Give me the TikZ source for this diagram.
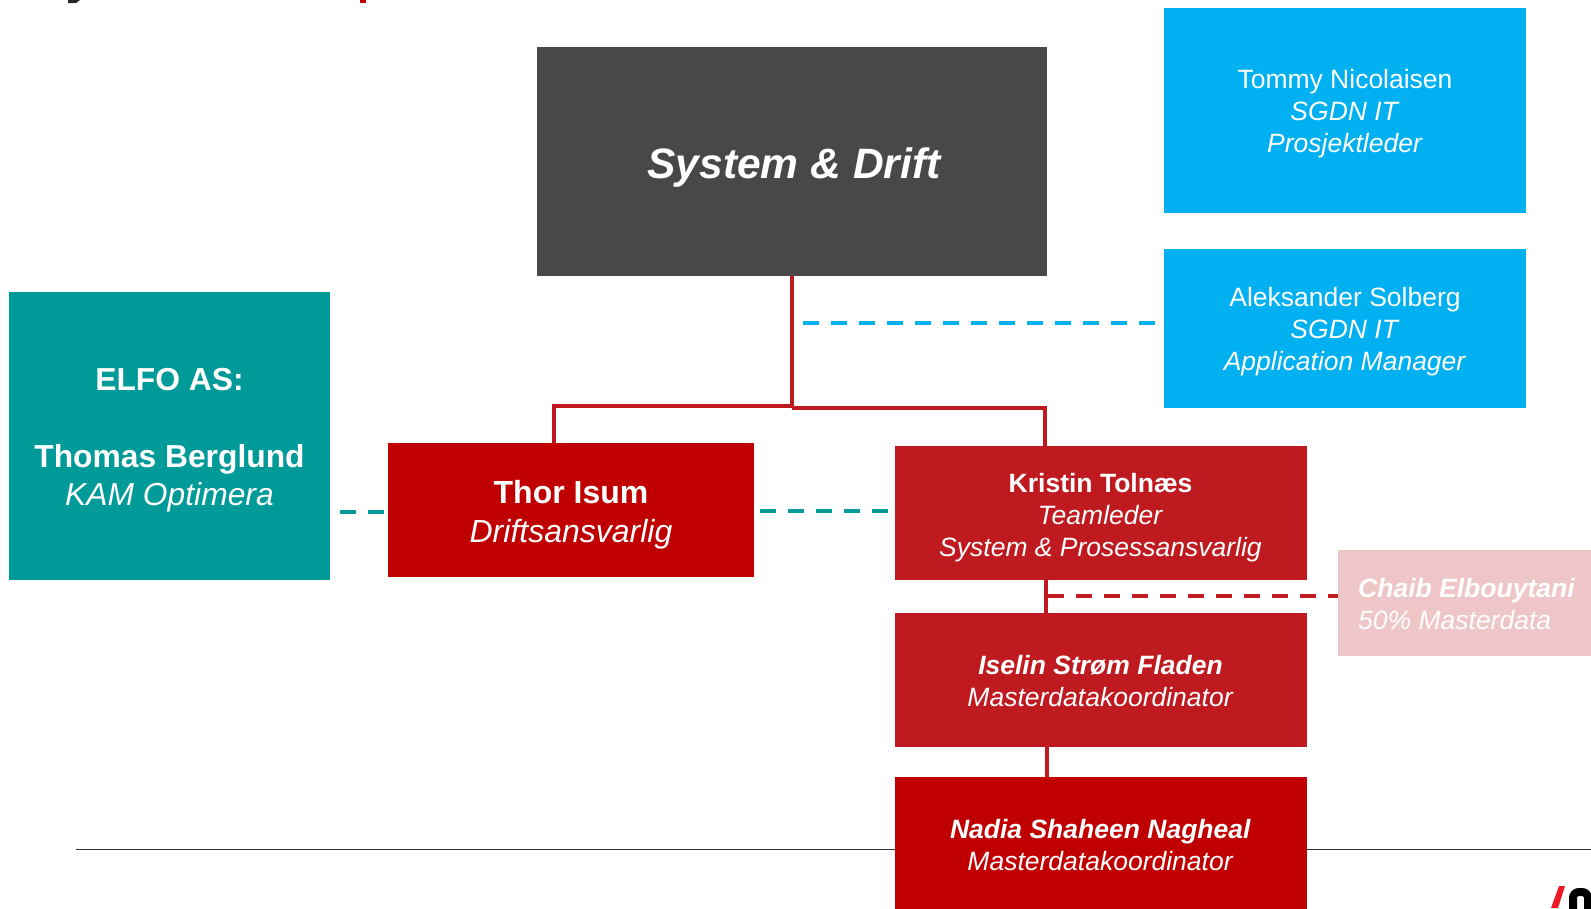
\documentclass[tikz,border=0pt]{standalone}
\usepackage{fontspec}
\setmainfont{Liberation Sans}
\definecolor{sysgrey}{HTML}{484848}
\definecolor{itblue}{HTML}{00B0F0}
\definecolor{elfoteal}{HTML}{009A98}
\definecolor{deepred}{HTML}{C00000}
\definecolor{teamred}{HTML}{BF1A1F}
\definecolor{palered}{HTML}{EFC6C8}
\definecolor{logored}{HTML}{ED1C24}
\newcommand{\droptext}[1]{\rule{0pt}{#1}}
\tikzset{
	orgbox/.style={rectangle, inner sep=0pt, text=white, align=center},
	itbox/.style={orgbox, fill=itblue, minimum width=362pt, font=\fontsize{26.5}{32}\selectfont},
	redbox/.style={orgbox, minimum width=412pt, minimum height=134pt, font=\fontsize{26.5}{32}\selectfont},
	orgline/.style={draw=teamred, line width=4pt},
	dashline/.style={line width=4pt, dash pattern=on 16pt off 12pt}
}
\begin{document}
\begin{tikzpicture}[x=1pt,y=-1pt]
\useasboundingbox (0,0) rectangle (1591,908);
% bits of the cut off heading and logo
\fill [black!85] (68,0) -- (80,0) -- (76,3) -- (68,3) -- cycle;
\fill [deepred] (360,0) rectangle (366,3);
\fill [logored] (1559,886) -- (1565,886) -- (1558,908) -- (1551,908) -- cycle;
\draw [black, line width=8pt, rounded corners=6pt] (1573,915) -- (1573,892) -- (1588,892) -- (1588,915);
\coordinate (ruleleft) at (76,849.5);
\coordinate (ruleright) at (1591,849.5);
\draw [black!80, line width=1.2pt] (ruleleft) -- (ruleright);
\path
	(792,161.5) node [orgbox, fill=sysgrey, minimum width=510pt, minimum height=229pt, font=\fontsize{42.5}{50}\selectfont\bfseries\itshape] (sysdrift) {\hspace*{4pt}\droptext{43pt}System \& Drift}
	(1345,110.5) node [itbox, minimum height=205pt] (tommy) {\droptext{26pt}Tommy Nicolaisen\\\textit{SGDN IT}\\\textit{Prosjektleder}}
	(1345,328.5) node [itbox, minimum height=159pt] (aleksander) {\droptext{26pt}Aleksander Solberg\\\textit{SGDN IT}\\\textit{Application Manager}}
	(169.5,436) node [orgbox, fill=elfoteal, minimum width=321pt, minimum height=288pt, font=\fontsize{31.8}{38.5}\selectfont] (elfo) {\droptext{31pt}\textbf{ELFO AS:}\\[38.5pt]\textbf{Thomas Berglund}\\\textit{KAM Optimera}}
	(571,510) node [orgbox, fill=deepred, minimum width=366pt, minimum height=134pt, font=\fontsize{32}{38.5}\selectfont] (thor) {\droptext{33pt}\textbf{Thor Isum}\\\textit{Driftsansvarlig}}
	(1100.5,513) node [redbox, fill=teamred] (kristin) {\droptext{27.5pt}\textbf{Kristin Tolnæs}\\\textit{Teamleder}\\\textit{System \& Prosessansvarlig}}
	(1100.5,680) node [redbox, fill=teamred] (iselin) {\droptext{21.5pt}\textbf{\textit{Iselin Strøm Fladen}}\\\textit{Masterdatakoordinator}}
	(1100.5,844) node [redbox, fill=deepred] (nadia) {\droptext{21.5pt}\textbf{\textit{Nadia Shaheen Nagheal}}\\\textit{Masterdatakoordinator}}
	(1338,550) node [orgbox, anchor=north west, fill=palered, minimum width=260pt, minimum height=106pt] (chaib) {}
	(1358,604) node [orgbox, anchor=west, align=left, font=\fontsize{26.5}{32}\selectfont] (chaibtext) {\textbf{\textit{Chaib Elbouytani}}\\\textit{50\% Masterdata}};
\coordinate (busleft) at (792,406);
\coordinate (busright) at (792,408);
\coordinate (thortop) at (554,443);
\coordinate (kristintop) at (1045,446);
\draw [orgline] (sysdrift.south) -- (busright);
\draw [orgline] (busleft) -| (thortop);
\draw [orgline] (busright) -| (kristintop);
% dashed links
\coordinate (itstart) at (803,323);
\coordinate (itend) at (1156,323);
\draw [dashline, draw=itblue] (itstart) -- (itend);
\coordinate (elfostart) at (340,512);
\coordinate (elfoend) at (385,512);
\draw [dashline, draw=elfoteal] (elfostart) -- (elfoend);
\coordinate (thorstart) at (760,511);
\coordinate (thorend) at (889,511);
\draw [dashline, draw=elfoteal] (thorstart) -- (thorend);
% team column
\coordinate (kristinfoot) at (1046,580);
\coordinate (iselintop) at (1046,613);
\coordinate (iselinfoot) at (1047,747);
\coordinate (nadiatop) at (1047,777);
\coordinate (chaiblink) at (1338,596);
\coordinate (teamlink) at (1048,596);
\draw [orgline] (kristinfoot) -- (iselintop);
\draw [orgline] (iselinfoot) -- (nadiatop);
\draw [dashline, draw=teamred] (teamlink) -- (chaiblink);
\end{tikzpicture}
\end{document}
